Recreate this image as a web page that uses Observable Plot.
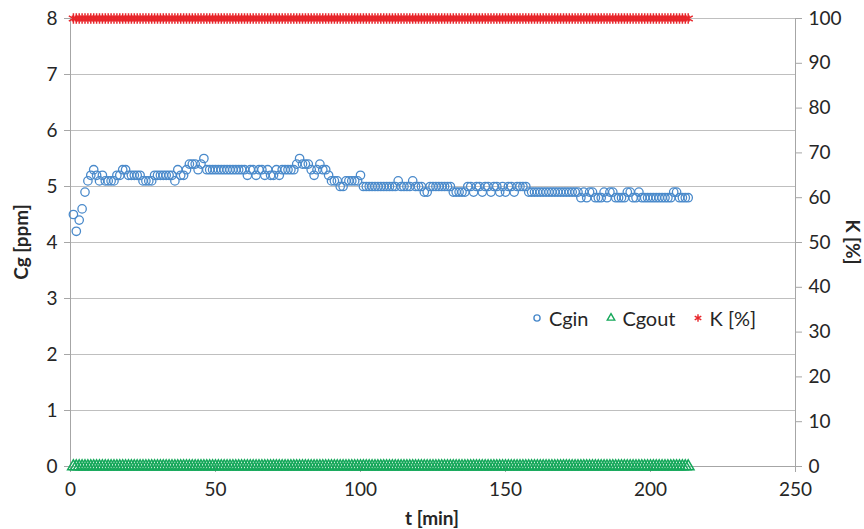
<!DOCTYPE html>
<html><head><meta charset="utf-8">
<script src="https://cdn.jsdelivr.net/npm/d3@7"></script>
<script src="https://cdn.jsdelivr.net/npm/@observablehq/plot@0.6"></script>
<style>
body{margin:0;background:#fff;}
#wrap{position:relative;width:864px;height:529px;font-family:Lato,"Open Sans",sans-serif;color:#262626;}
.title{position:absolute;font-weight:bold;font-size:19px;white-space:nowrap;transform-origin:center;}
#legend{position:absolute;left:531px;top:306px;display:flex;align-items:center;font-size:20px;white-space:nowrap;}
#legend .item{display:flex;align-items:center;margin-right:16px;}
#legend svg{margin-right:6px;}
</style></head><body><div id="wrap"></div>
<script>
// time (min), one sample per minute
const tMin = d3.range(1, 214);
// Cgin [ppm]
const cgin = [
 4.5,4.2,4.4,4.6,4.9,5.1,5.2,5.3,5.2,5.1,
 5.2,5.1,5.1,5.1,5.1,5.2,5.2,5.3,5.3,5.2,
 5.2,5.2,5.2,5.2,5.1,5.1,5.1,5.1,5.2,5.2,
 5.2,5.2,5.2,5.2,5.2,5.1,5.3,5.2,5.2,5.3,
 5.4,5.4,5.4,5.3,5.4,5.5,5.3,5.3,5.3,5.3,
 5.3,5.3,5.3,5.3,5.3,5.3,5.3,5.3,5.3,5.3,
 5.2,5.3,5.3,5.2,5.3,5.3,5.2,5.3,5.2,5.2,
 5.3,5.2,5.3,5.3,5.3,5.3,5.3,5.4,5.5,5.4,
 5.4,5.4,5.3,5.2,5.3,5.4,5.3,5.3,5.2,5.1,
 5.1,5.1,5.0,5.0,5.1,5.1,5.1,5.1,5.1,5.2,
 5.0,5.0,5.0,5.0,5.0,5.0,5.0,5.0,5.0,5.0,
 5.0,5.0,5.1,5.0,5.0,5.0,5.0,5.1,5.0,5.0,
 5.0,4.9,4.9,5.0,5.0,5.0,5.0,5.0,5.0,5.0,
 5.0,4.9,4.9,4.9,4.9,4.9,5.0,5.0,4.9,5.0,
 5.0,4.9,5.0,5.0,4.9,5.0,5.0,4.9,5.0,4.9,
 5.0,5.0,4.9,5.0,5.0,5.0,5.0,4.9,4.9,4.9,
 4.9,4.9,4.9,4.9,4.9,4.9,4.9,4.9,4.9,4.9,
 4.9,4.9,4.9,4.9,4.9,4.8,4.9,4.8,4.9,4.9,
 4.8,4.8,4.8,4.9,4.8,4.9,4.9,4.8,4.8,4.8,
 4.8,4.9,4.9,4.8,4.8,4.9,4.8,4.8,4.8,4.8,
 4.8,4.8,4.8,4.8,4.8,4.8,4.8,4.9,4.9,4.8,
 4.8,4.8,4.8
];
// Cgout [ppm] (all readings at 0) and K [%] (all readings at 100)
const cgout = tMin.map(() => 0);
const kPct = tMin.map(() => 100);

const xTicks = [0, 50, 100, 150, 200, 250];
const yTicks = [0, 1, 2, 3, 4, 5, 6, 7, 8];
const kTicks = [0, 10, 20, 30, 40, 50, 60, 70, 80, 90, 100];
const kToCg = 8 / 100;

const rows = tMin.map((t, i) => ({t, cgin: cgin[i], cgout: cgout[i], k: kPct[i]}));

const blue = "#4a8acb", green = "#15a85a", red = "#e8262b", axisGray = "#a6a6a6";

const chart = Plot.plot({
  width: 864, height: 529,
  marginTop: 18, marginBottom: 63, marginLeft: 70, marginRight: 69,
  style: {fontFamily: "Lato, 'Open Sans', sans-serif", fontSize: "19px", color: "#262626", background: "white", overflow: "visible"},
  x: {domain: [0, 250]},
  y: {domain: [0, 8]},
  marks: [
    Plot.gridY({ticks: yTicks.filter(d => d > 0), stroke: "#bfbfbf", strokeOpacity: 1}),
    Plot.ruleY([0], {stroke: axisGray}),
    Plot.ruleX([0], {stroke: axisGray}),
    Plot.ruleX([250], {stroke: axisGray}),
    Plot.axisX({ticks: xTicks, tickSize: 6, tickPadding: 10, stroke: axisGray, label: null}),
    Plot.axisY({anchor: "left", ticks: yTicks, tickSize: 6, tickPadding: 7, stroke: axisGray, label: null}),
    Plot.axisY({anchor: "right", ticks: kTicks.map(v => v * kToCg), tickFormat: d => Math.round(d / kToCg), tickSize: 6, tickPadding: 7, stroke: axisGray, label: null}),
    Plot.dot(rows, {x: "t", y: "cgout", symbol: "triangle", r: 4.3, stroke: green, strokeWidth: 1.5, fill: "none"}),
    Plot.dot(rows, {x: "t", y: d => d.k * kToCg, symbol: "asterisk", r: 5, stroke: red, strokeWidth: 1.5}),
    Plot.dot(rows, {x: "t", y: "cgin", symbol: "circle", r: 4.2, stroke: blue, strokeWidth: 1.3, fill: "none"})
  ]
});

const wrap = document.getElementById("wrap");
wrap.appendChild(chart);

function addTitle(text, left, top, rot) {
  const d = document.createElement("div");
  d.className = "title";
  d.textContent = text;
  d.style.left = left + "px";
  d.style.top = top + "px";
  d.style.transform = `translate(-50%,-50%) rotate(${rot}deg)`;
  wrap.appendChild(d);
}
addTitle("t [min]", 432, 517, 0);
addTitle("Cg [ppm]", 20, 242, -90);
addTitle("K [%]", 853, 242, 90);

const legend = document.createElement("div");
legend.id = "legend";
const items = [
  {label: "Cgin", sym: "circle", color: blue},
  {label: "Cgout", sym: "triangle", color: green},
  {label: "K [%]", sym: "asterisk", color: red}
];
const symMap = {circle: d3.symbolCircle, triangle: d3.symbolTriangle2, asterisk: d3.symbolAsterisk};
for (const it of items) {
  const el = document.createElement("div");
  el.className = "item";
  const sz = 12;
  const path = d3.symbol(symMap[it.sym], it.sym === "circle" ? 30 : 40)();
  el.innerHTML = `<svg width="${sz}" height="${sz}" viewBox="${-sz/2} ${-sz/2} ${sz} ${sz}"><path d="${path}" fill="none" stroke="${it.color}" stroke-width="1.4"/></svg><span>${it.label}</span>`;
  legend.appendChild(el);
}
wrap.appendChild(legend);
</script>
</body></html>
